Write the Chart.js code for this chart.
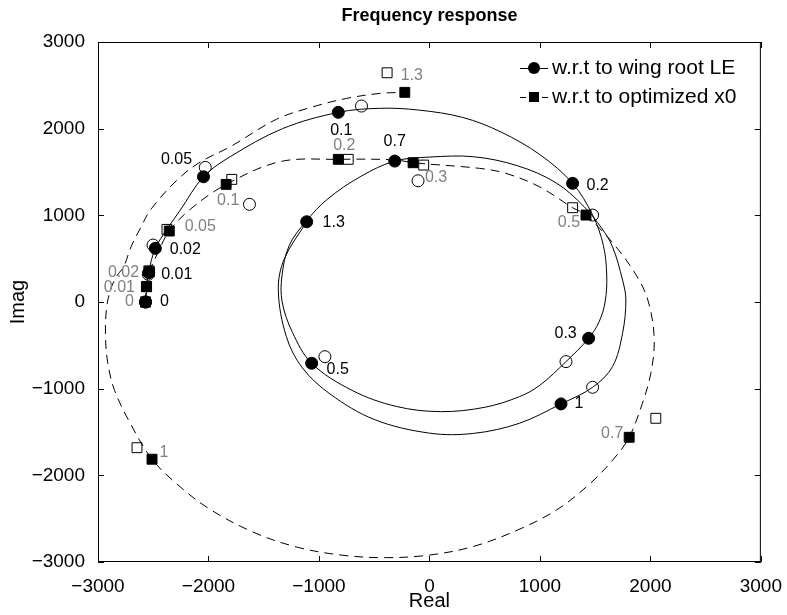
<!DOCTYPE html>
<html>
<head>
<meta charset="utf-8">
<title>Frequency response</title>
<script src="https://cdn.jsdelivr.net/npm/chart.js@4"></script>
<style>
  html, body { margin: 0; padding: 0; background: #fff; }
</style>
</head>
<body>
<canvas id="myChart" width="787" height="615"></canvas>
<script>
// frequency labels for the marked points
const freqs = ["0", "0.01", "0.02", "0.05", "0.1", "0.2", "0.3", "0.5", "0.7", "1", "1.3"];

// filled circles: w.r.t to wing root LE
const rootRe = [-2570, -2541, -2481, -2045, -825, 1296, 1441, -1066, -314, 1191, -1111];
const rootIm = [0, 338, 619, 1445, 2188, 1369, -419, -707, 1626, -1176, 926];
// open circles next to them
const rootOpenRe = [-2570, -2545, -2502, -2029, -615, 1477, 1236, -946, -103, 1477, -1629];
const rootOpenIm = [0, 320, 657, 1553, 2261, 1003, -688, -631, 1399, -984, 1127];

// filled squares: w.r.t to optimized x0
const optRe = [-2570, -2562, -2534, -2355, -1840, -825, -148, 1417, 1808, -2511, -223];
const optIm = [0, 176, 350, 819, 1357, 1646, 1607, 1003, -1561, -1814, 2419];
// open squares next to them
const optOpenRe = [-2570, -2560, -2540, -2376, -1789, -735, -52, 1296, 2049, -2647, -383];
const optOpenIm = [0, 180, 360, 838, 1415, 1646, 1580, 1088, -1342, -1681, 2645];

// solid curve
const rootCurveRe = [-2570, -2541, -2481, -2376, -2255, -2045, -1804, -1330, -825, -450, -100, 300, 650, 1000, 1296,
    1477, 1575, 1605, 1590, 1535, 1441, 1236, 1000, 815, 500, 100, -300, -700, -1066,
    -1240, -1333, -1335, -1270, -1120, -920, -620, -314,
    0, 400, 800, 1146, 1400, 1560, 1657, 1748, 1778, 1748, 1657, 1477, 1191,
    815, 400, 0, -500, -900, -1150, -1295, -1368, -1313, -1111];
const rootCurveIm = [0, 338, 619, 838, 1061, 1445, 1676, 2000, 2188, 2235, 2215, 2130, 1960, 1700, 1369,
    1003, 650, 300, 0, -230, -419, -688, -960, -1092, -1215, -1265, -1205, -1020, -707,
    -350, 0, 300, 650, 926, 1190, 1450, 1626,
    1672, 1676, 1571, 1375, 1100, 850, 638, 254, 23, -361, -746, -984, -1176,
    -1399, -1516, -1513, -1355, -1061, -760, -400, 138, 500, 926];

// dashed curve
const optCurveRe = [-2570, -2562, -2534, -2450, -2355, -2165, -1840, -1350, -825, -314, -148, 454, 693, 995, 1296, 1417,
    1688, 1898, 1990, 2035, 2004, 1928, 1808, 1673, 1450, 1150, 800, 400, 0, -400, -800, -1200, -1600, -2000, -2300, -2511,
    -2700, -2850, -2912, -2932, -2925, -2890, -2830, -2767, -2700, -2609, -2526, -2285, -2075, -1804, -1382, -1052, -750, -449, -223];
const optCurveIm = [0, 176, 350, 590, 819, 1070, 1357, 1620, 1646, 1640, 1607, 1542, 1484, 1330, 1088, 1003,
    638, 254, -35, -438, -822, -1168, -1561, -1803, -2100, -2400, -2630, -2820, -2920, -2950, -2920, -2828, -2653, -2381, -2084, -1814,
    -1419, -1021, -700, -400, -100, 130, 300, 407, 640, 869, 1061, 1407, 1615, 1791, 2110, 2253, 2349, 2407, 2419];

const GRAY = "rgb(128, 128, 128)";
const FONT = "'Liberation Sans', Arial, Helvetica, sans-serif";

// label placement, pixel offsets from the marker
const rootLabelOffsets = [[19, 0], [28, 2], [30, 1], [-27, -17], [3, 18], [25, 2], [-23, -5], [26, 6], [0, -19], [18, 0], [27, 1]];
const optLabelOffsets = [[-16, 0], [-27, 1], [-26, 1], [31, -4], [2, 16], [6, -14], [23, 15], [-17, 8], [-17, -4], [12, -7], [7, -17]];

// turn two arrays into chart.js points
function toPoints(re, im) {
    var pts = [];
    for (var i = 0; i < re.length; i++) {
        pts.push({ x: re[i], y: im[i] });
    }
    return pts;
}

function tickText(v) {
    return v < 0 ? "\u2212" + Math.abs(v) : String(v);
}

// box, inward ticks, title, legend and point labels
const decorPlugin = {
    id: "decor",
    afterDatasetsDraw(chart) {
        const { ctx, chartArea: a, scales } = chart;
        const xs = scales.x, ys = scales.y;
        ctx.save();

        // point labels
        ctx.font = "16px " + FONT;
        ctx.textAlign = "center";
        ctx.textBaseline = "middle";
        for (var i = 0; i < freqs.length; i++) {
            ctx.fillStyle = "#000";
            ctx.fillText(freqs[i], xs.getPixelForValue(rootRe[i]) + rootLabelOffsets[i][0],
                ys.getPixelForValue(rootIm[i]) + rootLabelOffsets[i][1]);
            ctx.fillStyle = GRAY;
            ctx.fillText(freqs[i], xs.getPixelForValue(optRe[i]) + optLabelOffsets[i][0],
                ys.getPixelForValue(optIm[i]) + optLabelOffsets[i][1]);
        }

        // frame and ticks
        ctx.strokeStyle = "#000";
        ctx.lineWidth = 1;
        ctx.strokeRect(a.left + 0.5, a.top + 0.5, a.width - 1, a.height - 1);
        ctx.beginPath();
        xs.ticks.forEach(function (t) {
            var px = Math.round(xs.getPixelForValue(t.value)) + 0.5;
            ctx.moveTo(px, a.bottom); ctx.lineTo(px, a.bottom - 6);
            ctx.moveTo(px, a.top); ctx.lineTo(px, a.top + 6);
        });
        ys.ticks.forEach(function (t) {
            var py = Math.round(ys.getPixelForValue(t.value)) + 0.5;
            ctx.moveTo(a.left, py); ctx.lineTo(a.left + 6, py);
            ctx.moveTo(a.right, py); ctx.lineTo(a.right - 6, py);
        });
        ctx.stroke();

        // title
        ctx.fillStyle = "#000";
        ctx.font = "bold 18px " + FONT;
        ctx.textAlign = "center";
        ctx.fillText("Frequency response", (a.left + a.right) / 2, 16);

        // legend
        var lx = 520, ly1 = 68, ly2 = 97;
        ctx.beginPath();
        ctx.moveTo(lx, ly1 + 0.5); ctx.lineTo(lx + 28, ly1 + 0.5);
        ctx.stroke();
        ctx.beginPath();
        ctx.arc(lx + 14, ly1, 6, 0, Math.PI * 2);
        ctx.fill();
        ctx.beginPath();
        ctx.moveTo(lx, ly2 + 0.5); ctx.lineTo(lx + 6, ly2 + 0.5);
        ctx.moveTo(lx + 22, ly2 + 0.5); ctx.lineTo(lx + 28, ly2 + 0.5);
        ctx.stroke();
        ctx.fillRect(lx + 9, ly2 - 5, 10, 10);
        ctx.font = "21px " + FONT;
        ctx.textAlign = "left";
        ctx.fillText("w.r.t to wing root LE", lx + 32, ly1);
        ctx.fillText("w.r.t to optimized x0", lx + 32, ly2);

        ctx.restore();
    },
};

const data = {
    datasets: [
        {
            label: "root markers",
            data: toPoints(rootRe, rootIm),
            pointStyle: "circle",
            pointRadius: 6,
            backgroundColor: "#000",
            borderColor: "#000",
            borderWidth: 1,
            showLine: false,
        },
        {
            label: "opt markers",
            data: toPoints(optRe, optIm),
            pointStyle: "rect",
            pointRadius: 7,
            backgroundColor: "#000",
            borderColor: "#000",
            borderWidth: 1,
            showLine: false,
        },
        {
            label: "root open",
            data: toPoints(rootOpenRe, rootOpenIm),
            pointStyle: "circle",
            pointRadius: 6,
            backgroundColor: "rgba(0,0,0,0)",
            borderColor: "#000",
            borderWidth: 1,
            showLine: false,
        },
        {
            label: "opt open",
            data: toPoints(optOpenRe, optOpenIm),
            pointStyle: "rect",
            pointRadius: 7,
            backgroundColor: "rgba(0,0,0,0)",
            borderColor: "#000",
            borderWidth: 1,
            showLine: false,
        },
        {
            label: "w.r.t to wing root LE",
            data: toPoints(rootCurveRe, rootCurveIm),
            showLine: true,
            tension: 0.35,
            pointRadius: 0,
            borderColor: "#000",
            borderWidth: 1,
        },
        {
            label: "w.r.t to optimized x0",
            data: toPoints(optCurveRe, optCurveIm),
            showLine: true,
            tension: 0.35,
            pointRadius: 0,
            borderColor: "#000",
            borderWidth: 1,
            borderDash: [9, 6],
        },
    ],
};

const config = {
    type: "scatter",
    data,
    options: {
        responsive: false,
        animation: false,
        layout: { padding: { left: 0, right: 25, top: 42, bottom: 0 } },
        plugins: {
            legend: { display: false },
            title: { display: false },
            tooltip: { enabled: false },
        },
        scales: {
            x: {
                min: -3000,
                max: 3000,
                grid: { display: false },
                border: { display: false },
                ticks: { stepSize: 1000, padding: 5, color: "#000", font: { family: FONT, size: 19 }, callback: tickText, maxRotation: 0 },
                title: { display: true, text: "Real", color: "#000", font: { family: FONT, size: 20 }, padding: { top: 0, bottom: 2 } },
                afterFit: function (s) { s.height = 53; },
            },
            y: {
                min: -3000,
                max: 3000,
                grid: { display: false },
                border: { display: false },
                ticks: { stepSize: 1000, padding: 5, color: "#000", font: { family: FONT, size: 19 }, callback: tickText },
                title: { display: true, text: "Imag", color: "#000", font: { family: FONT, size: 20 }, padding: { top: 6, bottom: 0 } },
                afterFit: function (s) { s.width = 98; },
            },
        },
    },
    plugins: [decorPlugin],
};

var myChart = new Chart(document.getElementById("myChart"), config);
</script>
</body>
</html>
